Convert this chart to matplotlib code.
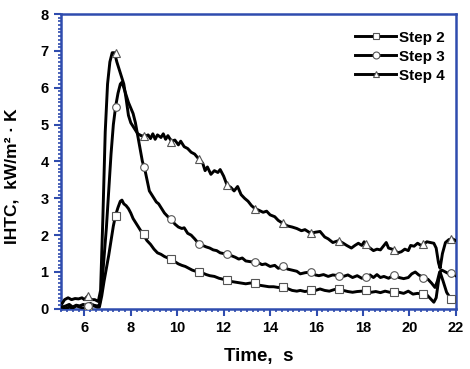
import matplotlib
matplotlib.use('Agg')
import matplotlib.pyplot as plt
from matplotlib.ticker import MultipleLocator
from matplotlib.lines import Line2D

plt.rcParams['font.family'] = ['Liberation Sans', 'DejaVu Sans']
plt.rcParams['font.weight'] = 'bold'

# Step 2 curve
t2 = [5.05, 5.2, 5.35, 5.5, 5.65, 5.8, 5.95, 6.1, 6.25, 6.4, 6.55, 6.65, 6.75, 6.85, 6.95, 7.05,
      7.15, 7.25, 7.35, 7.45, 7.55, 7.62, 7.7, 7.8, 7.9, 8.0, 8.1, 8.2, 8.3, 8.45, 8.55, 8.7, 8.85,
      9.0, 9.15, 9.3, 9.45, 9.6, 9.75, 9.9, 10.05, 10.2, 10.35, 10.5, 10.65, 10.8, 10.95, 11.1,
      11.25, 11.4, 11.6, 11.8, 12.0, 12.15, 12.35, 12.55, 12.75, 12.95, 13.15, 13.35, 13.55, 13.75,
      13.95, 14.15, 14.35, 14.55, 14.75, 14.95, 15.15, 15.3, 15.5, 15.75, 15.95, 16.15, 16.35,
      16.55, 16.75, 16.95, 17.15, 17.35, 17.55, 17.75, 17.95, 18.15, 18.35, 18.55, 18.75, 18.95,
      19.15, 19.35, 19.55, 19.75, 19.95, 20.15, 20.35, 20.55, 20.75, 20.9, 21.05, 21.15, 21.25,
      21.32, 21.45, 21.6, 21.75, 21.85, 22.0]
y2 = [0.05, 0.0, 0.05, 0.02, 0.08, 0.05, 0.02, 0.05, 0.1, 0.08, 0.05, 0.05, 0.35, 0.75, 1.1, 1.45,
      1.85, 2.25, 2.55, 2.75, 2.92, 2.95, 2.85, 2.8, 2.72, 2.6, 2.45, 2.35, 2.25, 2.1, 2.0, 1.85, 1.75,
      1.62, 1.52, 1.48, 1.42, 1.38, 1.35, 1.28, 1.22, 1.18, 1.15, 1.1, 1.05, 1.02, 0.98, 0.97,
      0.93, 0.9, 0.88, 0.83, 0.8, 0.78, 0.74, 0.72, 0.7, 0.68, 0.7, 0.68, 0.64, 0.62,
      0.6, 0.6, 0.58, 0.6, 0.55, 0.5, 0.48, 0.5, 0.47, 0.5, 0.5, 0.54, 0.5,
      0.48, 0.52, 0.55, 0.5, 0.47, 0.45, 0.47, 0.48, 0.5, 0.45, 0.47, 0.44, 0.48,
      0.45, 0.43, 0.45, 0.42, 0.48, 0.4, 0.42, 0.4, 0.38, 0.28, 0.18, 0.3, 0.75,
      1.0, 0.75, 0.45, 0.3, 0.28, 0.25]

# Step 3 curve
t3 = [5.05, 5.2, 5.35, 5.5, 5.65, 5.8, 5.95, 6.1, 6.25, 6.4, 6.55, 6.65, 6.75, 6.85, 6.95, 7.05,
      7.15, 7.25, 7.35, 7.45, 7.55, 7.62, 7.7, 7.8, 7.9, 8.0, 8.1, 8.2, 8.3, 8.4, 8.5, 8.6, 8.7,
      8.8, 8.9, 9.0, 9.1, 9.2, 9.3, 9.45, 9.6, 9.75, 9.9, 10.05, 10.2, 10.3, 10.45, 10.6, 10.75,
      10.95, 11.1, 11.25, 11.4, 11.55, 11.7, 11.85, 12.0, 12.15, 12.3, 12.5, 12.65, 12.8, 12.95,
      13.15, 13.35, 13.5, 13.65, 13.8, 14.0, 14.2, 14.35, 14.55, 14.75, 14.95, 15.15, 15.3, 15.5,
      15.75, 15.95, 16.1, 16.3, 16.5, 16.7, 16.95, 17.15, 17.35, 17.55, 17.75, 17.95, 18.15, 18.3,
      18.45, 18.6, 18.75, 18.9, 19.1, 19.35, 19.55, 19.75, 19.95, 20.1, 20.25, 20.4, 20.6, 20.8,
      20.95, 21.1, 21.2, 21.3, 21.4, 21.55, 21.7, 21.85, 22.0]
y3 = [0.05, 0.08, 0.12, 0.05, 0.1, 0.08, 0.12, 0.08, 0.15, 0.1, 0.08, 0.1, 0.6, 1.4, 2.2, 3.2,
      4.2, 5.0, 5.5, 5.85, 6.1, 6.15, 6.0, 5.8, 5.6, 5.45, 5.3, 5.05, 4.7, 4.35, 4.0, 3.8, 3.5,
      3.2, 3.1, 3.0, 2.9, 2.85, 2.75, 2.6, 2.5, 2.42, 2.3, 2.22, 2.18, 2.2, 2.05, 2.0, 1.9,
      1.75, 1.72, 1.68, 1.65, 1.6, 1.58, 1.52, 1.5, 1.48, 1.45, 1.4, 1.35, 1.38, 1.3,
      1.28, 1.27, 1.25, 1.2, 1.22, 1.15, 1.18, 1.1, 1.15, 1.08, 1.05, 1.02, 0.95, 0.98,
      1.0, 0.92, 0.9, 0.93, 0.88, 0.92, 0.9, 0.88, 0.92, 0.85, 0.9, 0.83, 0.87, 0.92,
      0.85, 0.93, 0.85, 0.88, 0.83, 0.93, 0.85, 0.82, 0.85, 0.95, 1.0, 0.92, 0.85, 0.8,
      0.7, 0.58, 0.75, 1.0, 1.05, 1.0, 0.95, 0.97, 0.9]

# Step 4 curve
t4 = [5.05, 5.15, 5.3, 5.45, 5.6, 5.75, 5.9, 6.0, 6.15, 6.3, 6.45, 6.6, 6.7, 6.8, 6.9, 7.0, 7.1,
      7.2, 7.3, 7.4, 7.5, 7.6, 7.7, 7.8, 7.9, 8.0, 8.1, 8.2, 8.3, 8.45, 8.6, 8.75, 8.85, 8.95, 9.05,
      9.15, 9.3, 9.4, 9.5, 9.6, 9.75, 9.9, 10.05, 10.15, 10.3, 10.45, 10.6, 10.75, 10.95, 11.1,
      11.2, 11.3, 11.45, 11.6, 11.75, 11.85, 12.0, 12.15, 12.3, 12.45, 12.6, 12.75, 12.9, 13.05,
      13.2, 13.35, 13.5, 13.7, 13.85, 14.0, 14.2, 14.35, 14.55, 14.75, 14.95, 15.15, 15.35, 15.5,
      15.75, 15.95, 16.15, 16.35, 16.5, 16.7, 16.95, 17.15, 17.3, 17.5, 17.65, 17.8, 17.95, 18.05,
      18.15, 18.3, 18.45, 18.6, 18.75, 18.9, 19.0, 19.1, 19.35, 19.5, 19.65, 19.8, 19.95, 20.05,
      20.2, 20.35, 20.5, 20.6, 20.75, 20.9, 21.05, 21.15, 21.25, 21.32, 21.42, 21.55, 21.7, 21.85,
      22.0]
y4 = [0.15, 0.25, 0.3, 0.25, 0.28, 0.27, 0.3, 0.25, 0.35, 0.25, 0.25, 0.2, 0.5, 2.5, 4.8, 6.1, 6.7,
      6.95, 6.95, 6.7, 6.5, 6.3, 6.1, 5.7, 5.25, 5.05, 4.95, 4.85, 4.75, 4.7, 4.68, 4.72, 4.62, 4.75, 4.6,
      4.72, 4.65, 4.75, 4.6, 4.7, 4.55, 4.58, 4.45, 4.55, 4.4, 4.35, 4.25, 4.2, 4.05, 3.95,
      3.75, 3.85, 3.65, 3.75, 3.7, 3.78, 3.6, 3.35, 3.3, 3.2, 3.32, 3.1, 3.0, 2.92,
      2.8, 2.72, 2.68, 2.62, 2.65, 2.55, 2.5, 2.4, 2.32, 2.25, 2.22, 2.18, 2.12, 2.15,
      2.05, 2.08, 2.1, 1.95, 1.9, 1.8, 1.85, 1.78, 1.72, 1.65, 1.72, 1.78, 1.72, 1.82,
      1.72, 1.65, 1.58, 1.62, 1.6, 1.72, 1.8, 1.65, 1.6, 1.52, 1.55, 1.62, 1.58, 1.72,
      1.7, 1.78, 1.72, 1.75, 1.82, 1.8, 1.78, 1.65, 1.25, 1.1, 1.5, 1.8, 1.88, 1.9,
      1.85]

# marker positions (symbols drawn along each curve)
mx = [6.15, 7.35, 8.55, 9.75, 10.95, 12.15, 13.35, 14.55, 15.75, 16.95, 18.15, 19.35, 20.6, 21.8]
m2y = [0.05, 2.52, 2.02, 1.36, 0.99, 0.78, 0.70, 0.60, 0.52, 0.55, 0.50, 0.45, 0.40, 0.28]
m3y = [0.08, 5.48, 3.86, 2.43, 1.76, 1.48, 1.27, 1.15, 1.0, 0.9, 0.87, 0.93, 0.85, 0.97]
m4y = [0.35, 6.93, 4.69, 4.53, 4.06, 3.36, 2.70, 2.32, 2.06, 1.85, 1.75, 1.6, 1.75, 1.89]

labels = ['Step 2', 'Step 3', 'Step 4']
markers = ['s', 'o', '^']

fig = plt.figure(figsize=(4.7, 3.69), dpi=100)
ax = fig.add_axes([0.13, 0.163, 0.84, 0.799])

lw = 2.1
mkw = dict(ls='none', ms=5.5, mfc='white', mec='#555555', mew=0.8, zorder=4)
for t, y in [(t2, y2), (t3, y3), (t4, y4)]:
    ax.plot(t, y, color='black', lw=lw, zorder=3)
for my, m in zip([m2y, m3y, m4y], markers):
    ax.plot(mx, my, marker=m, **mkw)

handles = [Line2D([], [], color='black', lw=lw, marker=m, ms=5, mfc='white', mec='#555555', mew=0.8)
           for m in markers]
ax.legend(handles, labels, loc='upper right', bbox_to_anchor=(0.99, 0.97), frameon=False,
          prop={'weight': 'bold', 'size': 11}, handlelength=2.7, handletextpad=0.15,
          labelspacing=0.33, borderpad=0)

ax.set_xlim(5, 22)
ax.set_ylim(0, 8)
ax.xaxis.set_major_locator(MultipleLocator(2))
ax.xaxis.set_minor_locator(MultipleLocator(0.25))
ax.yaxis.set_major_locator(MultipleLocator(1))
ax.yaxis.set_minor_locator(MultipleLocator(0.1))

blue = '#2f4cae'
for s in ax.spines.values():
    s.set_color(blue)
    s.set_linewidth(1.8)
ax.tick_params(which='both', direction='out', color=blue, top=False, right=False)
ax.tick_params(which='major', length=5, width=1.5, labelsize=10.5, pad=4)
ax.tick_params(which='minor', length=2.5, width=1.2)
for lab in ax.get_xticklabels() + ax.get_yticklabels():
    lab.set_fontweight('bold')

ax.set_xlabel('Time,  s', fontsize=13.5, fontweight='bold', labelpad=9)
ax.set_ylabel('IHTC,  kW/m\u00b2 \u00b7 K', fontsize=12.5, fontweight='bold')
ax.yaxis.set_label_coords(-0.105, 0.45)

plt.savefig('out.png', dpi=100)
